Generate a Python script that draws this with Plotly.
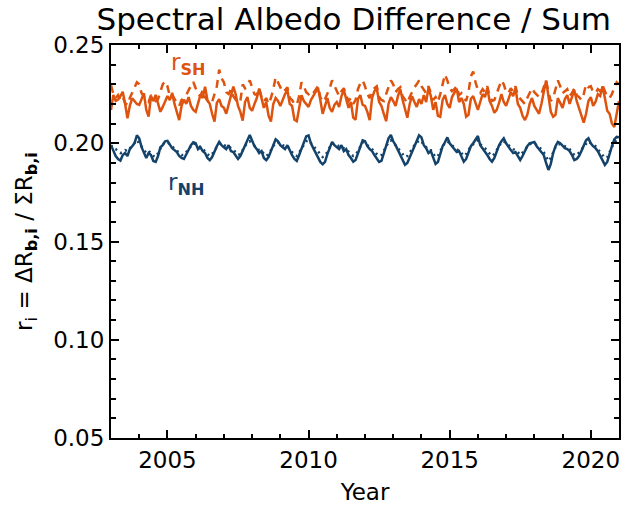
import plotly.graph_objects as go

start_year = 2003
tick_years = [2005, 2010, 2015, 2020]
y_ticks = [0.05, 0.10, 0.15, 0.20, 0.25]

# Monthly values Jan 2003 .. Dec 2020, plus Jan 2021
sh_solid = [
    .2169, .2246, .2215, .2222, .2240, .2262, .2200, .2127, .2190, .2229, .2215, .2200,  # 2003
    .2195, .2225, .2254, .2170, .2135, .2240, .2215, .2246, .2200, .2160, .2185, .2210,  # 2004
    .2240, .2220, .2255, .2200, .2160, .2118, .2190, .2222, .2200, .2235, .2190, .2170,  # 2005
    .2160, .2210, .2245, .2230, .2288, .2220, .2200, .2150, .2110, .2205, .2225, .2190,  # 2006
    .2180, .2150, .2200, .2240, .2288, .2250, .2190, .2160, .2115, .2210, .2235, .2180,  # 2007
    .2165, .2200, .2230, .2278, .2220, .2180, .2210, .2140, .2110, .2200, .2230, .2215,  # 2008
    .2190, .2225, .2250, .2270, .2200, .2190, .2120, .2112, .2190, .2245, .2215, .2200,  # 2009
    .2185, .2220, .2240, .2255, .2282, .2220, .2150, .2190, .2230, .2180, .2160, .2195,  # 2010
    .2210, .2185, .2240, .2270, .2230, .2180, .2210, .2130, .2120, .2225, .2245, .2195,  # 2011
    .2190, .2160, .2118, .2230, .2265, .2280, .2210, .2190, .2150, .2112, .2200, .2235,  # 2012
    .2215, .2190, .2240, .2275, .2220, .2180, .2130, .2200, .2240, .2210, .2185, .2225,  # 2013
    .2200, .2245, .2210, .2282, .2240, .2170, .2210, .2140, .2135, .2220, .2245, .2200,  # 2014
    .2180, .2235, .2255, .2278, .2210, .2230, .2200, .2135, .2145, .2225, .2240, .2200,  # 2015
    .2170, .2210, .2250, .2235, .2280, .2215, .2190, .2155, .2170, .2205, .2250, .2210,  # 2016
    .2190, .2225, .2260, .2240, .2280, .2200, .2180, .2140, .2118, .2145, .2200, .2230,  # 2017
    .2190, .2170, .2150, .2200, .2265, .2320, .2240, .2160, .2135, .2145, .2230, .2205,  # 2018
    .2180, .2225, .2245, .2200, .2230, .2270, .2215, .2180, .2150, .2105, .2150, .2215,  # 2019
    .2235, .2190, .2210, .2250, .2240, .2290, .2230, .2165, .2150, .2100, .2083, .2150,  # 2020
    .2215,
]

sh_dashed = [
    .2296, .2250, .2230, .2245, .2220, .2235, .2205, .2195, .2230, .2260, .2290, .2310,  # 2003
    .2300, .2255, .2240, .2220, .2210, .2245, .2230, .2215, .2225, .2265, .2300, .2315,  # 2004
    .2290, .2240, .2250, .2225, .2205, .2190, .2220, .2235, .2245, .2270, .2295, .2312,  # 2005
    .2280, .2250, .2240, .2270, .2235, .2215, .2200, .2210, .2250, .2290, .2375, .2330,  # 2006
    .2310, .2260, .2250, .2275, .2240, .2220, .2205, .2215, .2300, .2280, .2295, .2320,  # 2007
    .2290, .2250, .2245, .2280, .2235, .2210, .2230, .2200, .2230, .2275, .2335, .2310,  # 2008
    .2280, .2260, .2270, .2285, .2230, .2220, .2200, .2195, .2240, .2310, .2290, .2260,  # 2009
    .2250, .2265, .2255, .2275, .2290, .2235, .2210, .2225, .2250, .2280, .2320, .2290,  # 2010
    .2260, .2240, .2265, .2280, .2245, .2215, .2230, .2200, .2220, .2275, .2305, .2320,  # 2011
    .2290, .2250, .2230, .2270, .2280, .2290, .2235, .2220, .2215, .2250, .2290, .2320,  # 2012
    .2300, .2260, .2275, .2285, .2240, .2220, .2205, .2235, .2265, .2285, .2300, .2320,  # 2013
    .2290, .2270, .2255, .2290, .2260, .2220, .2235, .2210, .2250, .2300, .2350, .2320,  # 2014
    .2280, .2265, .2275, .2290, .2245, .2255, .2230, .2215, .2260, .2340, .2365, .2310,  # 2015
    .2270, .2255, .2275, .2260, .2290, .2240, .2215, .2220, .2250, .2290, .2320, .2300,  # 2016
    .2260, .2255, .2280, .2260, .2290, .2240, .2225, .2210, .2200, .2230, .2260, .2280,  # 2017
    .2260, .2245, .2235, .2250, .2280, .2320, .2260, .2215, .2230, .2270, .2320, .2290,  # 2018
    .2255, .2265, .2275, .2240, .2255, .2280, .2245, .2235, .2220, .2250, .2300, .2285,  # 2019
    .2290, .2260, .2255, .2275, .2265, .2295, .2260, .2235, .2230, .2250, .2285, .2310,  # 2020
    .2300,
]

nh_solid = [
    .1990, .1960, .1935, .1920, .1912, .1940, .1950, .1935, .1970, .1985, .2000, .2040,  # 2003
    .2025, .1980, .1955, .1925, .1950, .1940, .1910, .1905, .1935, .1980, .1990, .2010,  # 2004
    .2012, .1990, .1975, .1965, .1955, .1935, .1925, .1920, .1945, .1970, .1990, .2005,  # 2005
    .2000, .1970, .1980, .1960, .1950, .1925, .1914, .1930, .1960, .1985, .2007, .1990,  # 2006
    .1980, .1970, .1990, .1960, .1955, .1940, .1920, .1935, .1965, .1990, .2015, .2042,  # 2007
    .2010, .1985, .1970, .1950, .1960, .1925, .1914, .1930, .1960, .1990, .2020, .2010,  # 2008
    .1990, .1980, .1970, .1990, .1960, .1940, .1920, .1910, .1940, .1970, .2000, .2035,  # 2009
    .2040, .2000, .1975, .1950, .1930, .1905, .1893, .1905, .1945, .1975, .2007, .1990,  # 2010
    .1980, .1970, .1990, .1960, .1970, .1940, .1925, .1906, .1915, .1950, .1985, .2015,  # 2011
    .2010, .1985, .1970, .1960, .1940, .1920, .1905, .1910, .1945, .1985, .2025, .2042,  # 2012
    .2010, .1990, .1965, .1940, .1920, .1890, .1900, .1930, .1960, .1990, .2020, .2040,  # 2013
    .2030, .1990, .1975, .1950, .1960, .1930, .1895, .1905, .1950, .1985, .2005, .2030,  # 2014
    .2000, .1985, .1970, .1955, .1960, .1930, .1906, .1920, .1955, .1985, .2000, .2020,  # 2015
    .2037, .1990, .1975, .1960, .1940, .1920, .1906, .1925, .1960, .1990, .2010, .2025,  # 2016
    .2000, .1980, .1965, .1950, .1955, .1935, .1915, .1935, .1965, .1985, .2000, .2005,  # 2017
    .2007, .1985, .1970, .1955, .1940, .1900, .1864, .1895, .1950, .1985, .2007, .2000,  # 2018
    .1985, .1975, .1970, .1960, .1940, .1914, .1920, .1935, .1960, .1990, .2015, .2025,  # 2019
    .2000, .1985, .1975, .1960, .1935, .1910, .1890, .1905, .1950, .1985, .2020, .2032,  # 2020
    .2030,
]

nh_dotted = [
    .1990, .1975, .1970, .1960, .1950, .1955, .1965, .1960, .1975, .1990, .2000, .2015,  # 2003
    .2000, .1985, .1970, .1950, .1960, .1950, .1935, .1930, .1950, .1975, .1995, .2005,  # 2004
    .2005, .1995, .1985, .1975, .1965, .1950, .1940, .1940, .1955, .1975, .1990, .2000,  # 2005
    .1995, .1985, .1980, .1970, .1960, .1945, .1935, .1945, .1965, .1985, .2000, .1995,  # 2006
    .1990, .1985, .1985, .1975, .1965, .1955, .1940, .1945, .1965, .1985, .2005, .2010,  # 2007
    .2000, .1990, .1980, .1965, .1965, .1945, .1935, .1945, .1965, .1985, .2005, .2005,  # 2008
    .1995, .1990, .1985, .1985, .1970, .1955, .1940, .1935, .1955, .1975, .1995, .2010,  # 2009
    .2015, .2000, .1985, .1970, .1955, .1940, .1930, .1935, .1960, .1980, .2000, .1995,  # 2010
    .1990, .1985, .1985, .1975, .1970, .1955, .1945, .1935, .1940, .1960, .1985, .2005,  # 2011
    .2000, .1990, .1980, .1970, .1960, .1945, .1935, .1940, .1960, .1985, .2005, .2015,  # 2012
    .2005, .1990, .1975, .1960, .1945, .1930, .1935, .1950, .1970, .1990, .2005, .2015,  # 2013
    .2010, .1990, .1980, .1965, .1965, .1950, .1930, .1935, .1960, .1985, .2000, .2010,  # 2014
    .2000, .1990, .1980, .1970, .1965, .1950, .1935, .1945, .1965, .1985, .1995, .2010,  # 2015
    .2015, .1995, .1985, .1975, .1960, .1945, .1935, .1945, .1965, .1990, .2005, .2010,  # 2016
    .2000, .1990, .1980, .1970, .1965, .1955, .1940, .1950, .1965, .1985, .1995, .2000,  # 2017
    .2000, .1990, .1980, .1970, .1955, .1930, .1910, .1925, .1955, .1980, .1995, .1995,  # 2018
    .1990, .1985, .1980, .1970, .1955, .1940, .1940, .1950, .1965, .1985, .2000, .2010,  # 2019
    .2000, .1990, .1985, .1970, .1955, .1935, .1925, .1930, .1955, .1980, .2005, .2015,  # 2020
    .2015,
]

# time axis: monthly positions in fractional years
years = [start_year + i / 12 for i in range(len(sh_solid))]

ORANGE = "#DE530E"
BLUE = "#13426B"
FONT = "DejaVu Sans"

fig = go.Figure()
fig.add_trace(go.Scatter(x=years, y=sh_dashed, mode="lines",
                         line=dict(color=ORANGE, width=2.5, dash="8px,6px"), showlegend=False))
fig.add_trace(go.Scatter(x=years, y=nh_dotted, mode="lines",
                         line=dict(color=BLUE, width=2.5, dash="2px,4px"), showlegend=False))
fig.add_trace(go.Scatter(x=years, y=sh_solid, mode="lines",
                         line=dict(color=ORANGE, width=2.5), showlegend=False))
fig.add_trace(go.Scatter(x=years, y=nh_solid, mode="lines",
                         line=dict(color=BLUE, width=2.5), showlegend=False))

fig.add_annotation(x=2005.05, y=0.2405, xref="x", yref="y", text="r<sub><b>SH</b></sub>",
                   showarrow=False, xanchor="left", yanchor="middle",
                   font=dict(family=FONT, size=23, color=ORANGE))
fig.add_annotation(x=2004.95, y=0.1795, xref="x", yref="y", text="r<sub><b>NH</b></sub>",
                   showarrow=False, xanchor="left", yanchor="middle",
                   font=dict(family=FONT, size=23, color=BLUE))

fig.update_layout(
    width=626, height=506,
    margin=dict(l=111, r=5, t=45, b=68),
    paper_bgcolor="white", plot_bgcolor="white",
    font=dict(family=FONT, size=23, color="black"),
    title=dict(text="Spectral Albedo Difference / Sum", x=0.565, xanchor="center",
               y=0.962, yanchor="middle", yref="container",
               font=dict(family=FONT, size=31, color="black")),
)
fig.update_xaxes(
    range=[2003, 2021], tickvals=tick_years, ticktext=[str(v) for v in tick_years],
    ticks="inside", ticklen=8, tickwidth=2, tickcolor="black",
    showline=True, linewidth=2, linecolor="black", mirror="allticks",
    showgrid=False, zeroline=False,
    minor=dict(ticks="inside", dtick=1, tick0=2003, ticklen=4, tickwidth=2, tickcolor="black", showgrid=False),
    title=dict(text="Year", font=dict(family=FONT, size=23), standoff=12),
    tickfont=dict(family=FONT, size=23),
)
fig.update_yaxes(
    range=[0.05, 0.25], tickvals=y_ticks, ticktext=[f"{v:.2f}" for v in y_ticks],
    ticks="inside", ticklen=8, tickwidth=2, tickcolor="black",
    showline=True, linewidth=2, linecolor="black", mirror="allticks",
    showgrid=False, zeroline=False,
    minor=dict(ticks="inside", dtick=0.01, tick0=0.05, ticklen=5, tickwidth=2, tickcolor="black", showgrid=False),
    title=dict(text="r<sub>i</sub> = ΔR<sub><b>b,i</b></sub> / ΣR<sub><b>b,i</b></sub>",
               font=dict(family=FONT, size=23), standoff=14),
    tickfont=dict(family=FONT, size=23),
)

fig.write_html("out.html")
